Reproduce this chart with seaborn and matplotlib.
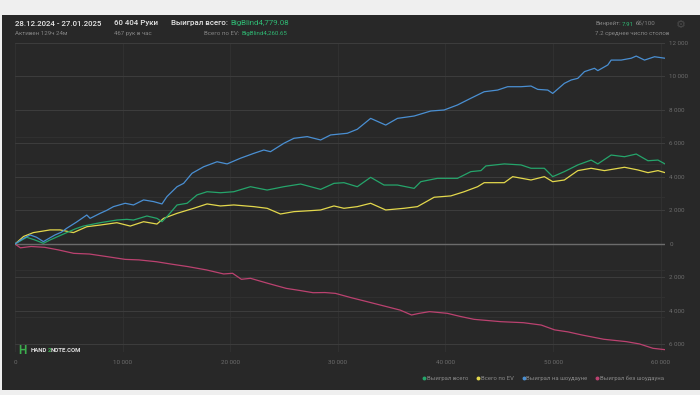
import matplotlib
matplotlib.use("Agg")
import matplotlib.pyplot as plt
import seaborn as sns
import pandas as pd
from matplotlib.patches import Rectangle
from matplotlib.lines import Line2D
from matplotlib.offsetbox import TextArea, HPacker, AnnotationBbox
from matplotlib.ticker import FixedLocator, FuncFormatter

# ---------------- data (hands, winnings) ----------------
series_names = ["Выиграл всего", "Всего по EV", "Выиграл на шоудауне", "Выиграл без шоудауна"]

won_total = [(0, 0), (1090, 400), (1800, 250), (2640, 40), (3260, 240), (4000, 450), (4810, 680),
             (5600, 900), (6360, 1070), (7910, 1270), (9470, 1430), (10400, 1470), (11010, 1430),
             (12260, 1670), (13190, 1530), (13660, 1330), (14120, 1630), (15060, 2330), (15990, 2430),
             (16920, 2930), (17850, 3120), (19090, 3060), (20330, 3120), (21880, 3420), (23430, 3220),
             (24980, 3420), (26540, 3580), (28400, 3260), (29640, 3620), (30570, 3660), (31810, 3420),
             (33050, 3980), (34290, 3520), (35540, 3520), (37090, 3320), (37710, 3720), (39260, 3920),
             (41120, 3920), (42360, 4320), (43300, 4380), (43760, 4660), (45470, 4780), (47020, 4720),
             (47950, 4520), (49190, 4520), (49970, 4020), (51050, 4320), (52300, 4720), (53540, 5010),
             (54160, 4780), (55400, 5310), (56640, 5210), (57730, 5370), (58820, 4970), (59750, 5010),
             (60404, 4779)]

ev_total = [(0, 0), (800, 450), (1710, 680), (2500, 760), (3260, 840), (4190, 840), (5430, 680),
            (6670, 1030), (7910, 1130), (9470, 1270), (10710, 1070), (11950, 1330), (13190, 1190),
            (13810, 1530), (15060, 1830), (16600, 2130), (17850, 2390), (19090, 2270), (20330, 2330),
            (22190, 2230), (23430, 2130), (24670, 1790), (25920, 1930), (27470, 1990), (28400, 2030),
            (29640, 2270), (30570, 2130), (31810, 2230), (33050, 2430), (34450, 2030), (36150, 2130),
            (37400, 2230), (38950, 2790), (40500, 2870), (41740, 3120), (42990, 3420), (43600, 3660),
            (45470, 3660), (46250, 4020), (47950, 3820), (49190, 4020), (49970, 3720), (51050, 3820),
            (52300, 4380), (53540, 4520), (54780, 4380), (56640, 4580), (57880, 4420), (58820, 4260),
            (59750, 4380), (60404, 4260)]

showdown = [(0, 0), (700, 300), (1400, 540), (2000, 400), (2640, 140), (3200, 350), (3720, 540),
            (4300, 700), (4810, 940), (5700, 1300), (6670, 1730), (6980, 1530), (7910, 1830),
            (8500, 2000), (9150, 2230), (10240, 2430), (11010, 2330), (11950, 2630), (12880, 2530),
            (13660, 2390), (14120, 2830), (15060, 3420), (15670, 3620), (16450, 4220), (17530, 4610),
            (18780, 4910), (19710, 4780), (20950, 5120), (22190, 5410), (23120, 5610), (23740, 5510),
            (24980, 6010), (25920, 6310), (27160, 6410), (27780, 6310), (28400, 6210), (29330, 6510),
            (30880, 6610), (31810, 6850), (33050, 7500), (34450, 7100), (35540, 7500), (37090, 7640),
            (38640, 7940), (39880, 8000), (41120, 8300), (42360, 8700), (43600, 9090), (44850, 9190),
            (45780, 9390), (47020, 9390), (47950, 9430), (48580, 9230), (49510, 9190), (49970, 8990),
            (51050, 9590), (51680, 9790), (52300, 9890), (52920, 10290), (53850, 10490), (54160, 10350),
            (55090, 10690), (55400, 10980), (56330, 10980), (57260, 11090), (57730, 11220),
            (58500, 10980), (59430, 11180), (60404, 11090)]

non_showdown = [(0, 0), (500, -230), (1500, -150), (2760, -200), (4000, -350), (5460, -560),
                (6920, -600), (8500, -750), (10240, -920), (11500, -950), (13150, -1060),
                (14500, -1200), (16060, -1350), (17800, -1550), (19390, -1790), (20220, -1750),
                (21040, -2110), (21880, -2050), (23500, -2350), (25200, -2650), (26500, -2780),
                (27700, -2910), (28800, -2900), (29780, -2950), (31200, -3200), (32690, -3440),
                (34770, -3780), (35800, -3950), (36850, -4240), (37500, -4150), (38510, -4040),
                (40170, -4140), (41400, -4330), (42660, -4500), (45160, -4640), (47240, -4700),
                (48900, -4840), (50150, -5130), (51400, -5250), (52650, -5430), (54720, -5690),
                (56800, -5830), (58040, -5970), (59290, -6230), (60404, -6310)]

x_ticks = [0, 10000, 20000, 30000, 40000, 50000, 60000]
y_ticks = [-6000, -4000, -2000, 0, 2000, 4000, 6000, 8000, 10000, 12000]
y_minor = [6370, 4780, 2790, -1550, -3180, -4380]
total_hands = 60404

# ---------------- styling ----------------
sns.set_theme(style="dark")
FAM = ["Roboto", "DejaVu Sans"]
plt.rcParams["font.family"] = FAM

BG = "#282828"
colors = {"Выиграл всего": "#25a56b", "Всего по EV": "#e3d84c",
          "Выиграл на шоудауне": "#4a8fd2", "Выиграл без шоудауна": "#bb4270"}

rows = []
for name, pts in zip(series_names, [won_total, ev_total, showdown, non_showdown]):
    for h, v in pts:
        rows.append({"hands": h, "value": v, "series": name})
df = pd.DataFrame(rows)

fig = plt.figure(figsize=(7, 3.95), dpi=100)
fig.patch.set_facecolor("#efefef")
fig.add_artist(Rectangle((2 / 700, 5 / 395), 698 / 700, 375 / 395,
                         transform=fig.transFigure, facecolor=BG, edgecolor="none", zorder=0))

ax = fig.add_axes([15 / 700, 1 - 352 / 395, 650 / 700, (352 - 43) / 395])
ax.set_facecolor("none")

order = ["Выиграл без шоудауна", "Всего по EV", "Выиграл всего", "Выиграл на шоудауне"]
sns.lineplot(data=df, x="hands", y="value", hue="series", hue_order=order,
             palette=colors, estimator=None, sort=False, linewidth=0.9,
             legend=False, ax=ax)

ax.set_xlim(0, total_hands)
ax.set_ylim(-6450, 12000)
for s in ax.spines.values():
    s.set_visible(False)

ax.xaxis.set_major_locator(FixedLocator(x_ticks))
ax.yaxis.set_major_locator(FixedLocator(y_ticks))
ax.yaxis.set_minor_locator(FixedLocator(y_minor))
fmt = FuncFormatter(lambda v, p: f"{abs(int(round(v))):,}".replace(",", " "))
ax.xaxis.set_major_formatter(fmt)
ax.yaxis.set_major_formatter(fmt)
ax.yaxis.tick_right()
ax.tick_params(axis="both", which="both", length=0, labelsize=4.5, labelcolor="#6c6c6c")
ax.tick_params(axis="y", pad=3)
ax.tick_params(axis="x", pad=6)
ax.set_xlabel("")
ax.set_ylabel("")

ax.grid(True, axis="y", which="major", color="#3d3d3d", linewidth=0.7)
ax.grid(True, axis="y", which="minor", color="#323232", linewidth=0.6)
ax.grid(True, axis="x", which="major", color="#323232", linewidth=0.6)
ax.axhline(0, color="#6c6c6c", linewidth=1.0, zorder=1)

# legend
handles = [Line2D([], [], linestyle="none", marker="o", markersize=1.8,
                  markerfacecolor=colors[n], markeredgecolor=colors[n]) for n in series_names]
ax.legend(handles, series_names, loc="upper right", ncol=4, frameon=False,
          bbox_to_anchor=(667 / 700, 1 - 373 / 395), bbox_transform=fig.transFigure,
          fontsize=4.2, labelcolor="#8a8a8a", handletextpad=0.05, columnspacing=1.3,
          handlelength=0.8, borderpad=0)


def rich(x, y, parts, align=0):
    areas = [TextArea(s, textprops=dict(color=c, fontsize=fs, fontweight=w, family=FAM))
             for s, c, fs, w in parts]
    box = HPacker(children=areas, align="baseline", pad=0, sep=0)
    ab = AnnotationBbox(box, (x, 395 - y), xycoords="figure pixels",
                        box_alignment=(align, 0.5), frameon=False, pad=0)
    fig.add_artist(ab)


WH = "#e6e6e6"
GR = "#858585"
GN = "#2fb873"
BIG = 5.7
SM = 4.4
rich(15, 23.5, [("28.12.2024 - 27.01.2025", WH, BIG, "medium")])
rich(15, 33.5, [("Активен 129ч 24м", GR, SM, "normal")])
rich(114, 23.5, [("60 404 Руки", WH, BIG, "medium")])
rich(114, 33.5, [("467 рук в час", GR, SM, "normal")])
rich(171, 23.5, [("Выиграл всего:", WH, BIG, "medium"), ("\u00a0", WH, BIG, "normal"),
                 ("BigBlind4,779.08", GN, BIG, "normal")])
rich(287, 33.5, [("Всего по EV:", GR, SM, "normal"), ("\u00a0", GR, SM, "normal"),
                 ("BigBlind4,260.65", GN, SM, "normal")], align=1)
rich(595, 24, [("Винрейт:", GR, SM, "normal"), ("\u00a0", GR, SM, "normal"),
               ("7.91", GN, SM, "normal"), ("\u00a0", GR, SM, "normal"),
               ("бб/100", GR, SM, "normal")])
rich(595, 33, [("7.2 среднее число столов", GR, SM, "normal")])
fig.text(681 / 700, 1 - 25 / 395, "\u2699", family=["DejaVu Sans"], fontsize=8,
         color="#4a4a4a", ha="center", va="center")

# logo
rich(18, 350, [("H", "#3cae4e", 8.5, "bold")])
rich(31, 350.5, [("HAND", "#e0e0e0", 4.3, "bold"), ("2", "#3cae4e", 4.3, "bold"),
                 ("NOTE.COM", "#e0e0e0", 4.3, "bold")])

fig.savefig("out.png", dpi=100, facecolor=fig.get_facecolor())
